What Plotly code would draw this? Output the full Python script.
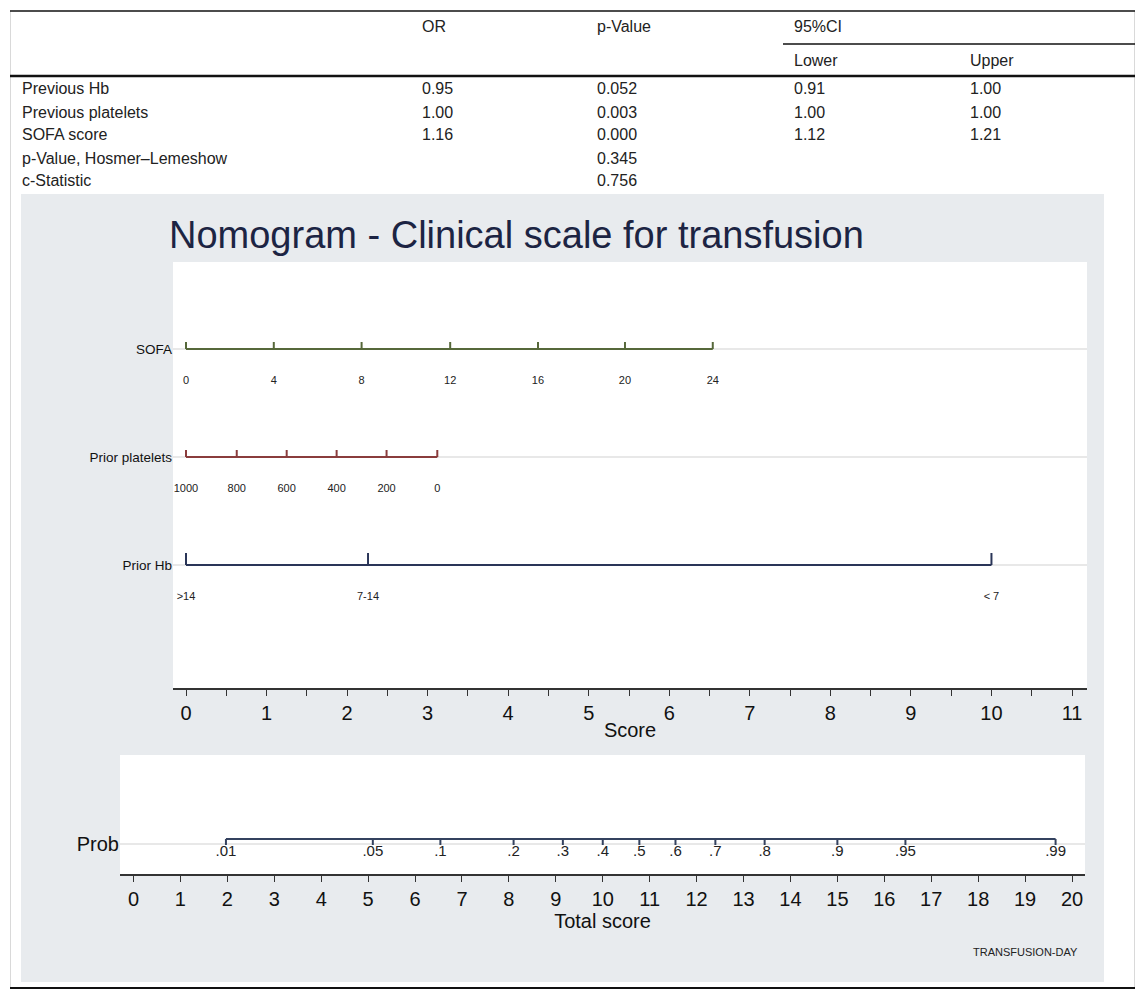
import plotly.graph_objects as go

# page body has an 8px default margin, so the figure is drawn 8px in from the window corner
OFF = 8
W, H = 1145 - 2 * OFF, 1000 - 2 * OFF

# ---------------- data ----------------
table_headers = ["OR", "p-Value", "95%CI"]
ci_subheaders = ["Lower", "Upper"]
table_rows = ["Previous Hb", "Previous platelets", "SOFA score",
              "p-Value, Hosmer–Lemeshow", "c-Statistic"]
or_vals = ["0.95", "1.00", "1.16", "", ""]
p_vals = ["0.052", "0.003", "0.000", "0.345", "0.756"]
ci_lower = ["0.91", "1.00", "1.12", "", ""]
ci_upper = ["1.00", "1.00", "1.21", "", ""]

variables = ["SOFA", "Prior platelets", "Prior Hb"]
sofa_values = ["0", "4", "8", "12", "16", "20", "24"]
sofa_points = [0, 1.09, 2.18, 3.28, 4.37, 5.45, 6.54]
platelet_values = ["1000", "800", "600", "400", "200", "0"]
platelet_points = [0, 0.63, 1.25, 1.87, 2.49, 3.12]
hb_categories = [">14", "7-14", "< 7"]
hb_points = [0, 2.26, 10.0]

score_ticks = list(range(0, 12))
total_ticks = list(range(0, 21))

prob_labels = [".01", ".05", ".1", ".2", ".3", ".4", ".5", ".6", ".7", ".8", ".9", ".95", ".99"]
prob_total_score = [1.97, 5.10, 6.54, 8.10, 9.15, 10.0, 10.78, 11.55, 12.40, 13.45, 15.0, 16.45, 19.65]

# ---------------- helpers ----------------
def fx(px):
    return (px - OFF) / W

def fy(py):
    return 1 - (py - OFF) / H

FONT = "Liberation Sans, Arial, sans-serif"

fig = go.Figure()

# top nomogram subplot geometry (window pixels)
T_L, T_R, T_T, T_B = 173, 1087, 262, 688
# bottom subplot
B_L, B_R, B_T, B_B = 120, 1085, 755, 874

def ty(py):
    return (T_B - py) / (T_B - T_T)

def by(py):
    return (B_B - py) / (B_B - B_T)

row_y = {"SOFA": ty(349), "Prior platelets": ty(457), "Prior Hb": ty(565)}
label_off = 32 / (T_B - T_T)

def scale_trace(points, yrow, tick_h, color):
    xs, ys = [points[0], points[-1], None], [yrow, yrow, None]
    for p in points:
        xs += [p, p, None]
        ys += [yrow, yrow + tick_h, None]
    return go.Scatter(x=xs, y=ys, mode="lines", line=dict(color=color, width=2),
                      hoverinfo="skip", showlegend=False, xaxis="x", yaxis="y")

def label_trace(points, labels, yrow):
    return go.Scatter(x=points, y=[yrow - label_off] * len(points), mode="text",
                      text=labels, textfont=dict(size=11, color="#222", family=FONT),
                      hoverinfo="skip", showlegend=False, xaxis="x", yaxis="y")

small_tick = 7 / (T_B - T_T)
big_tick = 12 / (T_B - T_T)

fig.add_trace(scale_trace(sofa_points, row_y["SOFA"], small_tick, "#56683a"))
fig.add_trace(label_trace(sofa_points, sofa_values, row_y["SOFA"]))
fig.add_trace(scale_trace(platelet_points, row_y["Prior platelets"], small_tick, "#8a3c3c"))
fig.add_trace(label_trace(platelet_points, platelet_values, row_y["Prior platelets"]))
fig.add_trace(scale_trace(hb_points, row_y["Prior Hb"], big_tick, "#2a3558"))
fig.add_trace(label_trace(hb_points, hb_categories, row_y["Prior Hb"]))

# bottom probability scale
prob_line_y = by(839)
prob_grid_y = by(844)
ptick = 6 / (B_B - B_T)
xs, ys = [prob_total_score[0], prob_total_score[-1], None], [prob_line_y, prob_line_y, None]
for p in prob_total_score:
    xs += [p, p, None]
    ys += [prob_line_y, prob_line_y - ptick, None]
fig.add_trace(go.Scatter(x=xs, y=ys, mode="lines", line=dict(color="#34425f", width=2),
                         hoverinfo="skip", showlegend=False, xaxis="x2", yaxis="y2"))
fig.add_trace(go.Scatter(x=prob_total_score, y=[by(852)] * len(prob_total_score), mode="text",
                         text=prob_labels, textfont=dict(size=15, color="#222", family=FONT),
                         hoverinfo="skip", showlegend=False, xaxis="x2", yaxis="y2"))

# ---------------- axes ----------------
unit_top = (1072 - 186) / 11
unit_bot = (1072 - 133.5) / 20

axis_common = dict(showline=True, linecolor="#333", linewidth=1.5, ticks="outside",
                   ticklen=6, tickwidth=1.3, tickcolor="#333", showgrid=False, zeroline=False,
                   tickfont=dict(size=20, color="#111", family=FONT), fixedrange=True)

fig.update_layout(
    xaxis=dict(domain=[fx(T_L), fx(T_R)], anchor="y",
               range=[(T_L - 186) / unit_top, (T_R - 186) / unit_top],
               tickvals=score_ticks, ticktext=[str(t) for t in score_ticks],
               minor=dict(tickvals=[t + 0.5 for t in score_ticks[:-1]], ticks="outside",
                          ticklen=6, tickwidth=1.3, tickcolor="#333"),
               title=dict(text="Score", font=dict(size=20, color="#111", family=FONT), standoff=0),
               **axis_common),
    yaxis=dict(domain=[fy(T_B), fy(T_T)], anchor="x", range=[0, 1],
               tickvals=[row_y[v] for v in variables], ticktext=variables,
               tickfont=dict(size=13.5, color="#111", family=FONT),
               showgrid=True, gridcolor="#e8e8e8", gridwidth=1.5,
               showline=False, zeroline=False, ticks="", fixedrange=True),
    xaxis2=dict(domain=[fx(B_L), fx(B_R)], anchor="y2",
                range=[(B_L - 133.5) / unit_bot, (B_R - 133.5) / unit_bot],
                tickvals=total_ticks, ticktext=[str(t) for t in total_ticks],
                title=dict(text="Total score", font=dict(size=20, color="#111", family=FONT), standoff=0),
                **axis_common),
    yaxis2=dict(domain=[fy(B_B), fy(B_T)], anchor="x2", range=[0, 1],
                tickvals=[prob_grid_y], ticktext=["Prob"],
                tickfont=dict(size=20, color="#111", family=FONT),
                showgrid=True, gridcolor="#e8e8e8", gridwidth=1.5,
                showline=False, zeroline=False, ticks="", fixedrange=True),
)

# ---------------- shapes ----------------
shapes = []
shapes.append(dict(type="rect", xref="paper", yref="paper", x0=fx(21), x1=fx(1104),
                   y0=fy(982), y1=fy(194), fillcolor="#e8ebee", line=dict(width=0), layer="below"))
for xr, yr in (("x domain", "y domain"), ("x2 domain", "y2 domain")):
    shapes.append(dict(type="rect", xref=xr, yref=yr, x0=0, x1=1, y0=0, y1=1,
                       fillcolor="white", line=dict(width=0), layer="below"))
shapes.append(dict(type="line", xref="paper", yref="paper", x0=fx(10.5), x1=fx(10.5),
                   y0=fy(11), y1=fy(988), line=dict(color="#d9d9d9", width=1)))
shapes.append(dict(type="line", xref="paper", yref="paper", x0=fx(1134.5), x1=fx(1134.5),
                   y0=fy(11), y1=fy(988), line=dict(color="#d9d9d9", width=1)))
shapes.append(dict(type="line", xref="paper", yref="paper", x0=fx(10), x1=fx(1135),
                   y0=fy(11), y1=fy(11), line=dict(color="#111", width=1.5)))
shapes.append(dict(type="line", xref="paper", yref="paper", x0=fx(783), x1=fx(1135),
                   y0=fy(44), y1=fy(44), line=dict(color="#111", width=1.5)))
shapes.append(dict(type="line", xref="paper", yref="paper", x0=fx(10), x1=fx(1135),
                   y0=fy(76), y1=fy(76), line=dict(color="#111", width=2.5)))
shapes.append(dict(type="line", xref="paper", yref="paper", x0=fx(10), x1=fx(1135),
                   y0=fy(988), y1=fy(988), line=dict(color="#111", width=2)))

# ---------------- annotations ----------------
ann = []
def txt(x, y, s, size=16, color="#222", anchor="left"):
    ann.append(dict(xref="paper", yref="paper", x=fx(x), y=fy(y), text=s, showarrow=False,
                    xanchor=anchor, yanchor="middle", font=dict(size=size, color=color, family=FONT)))

col_x = [420, 595, 792, 968]
for h, cx in zip(table_headers, col_x[:3]):
    txt(cx, 27, h)
for h, cx in zip(ci_subheaders, col_x[2:]):
    txt(cx, 60, h)
row_py = [89, 112, 135, 158, 181]
for i, py in enumerate(row_py):
    txt(20, py, table_rows[i])
    for cx, col in zip(col_x, (or_vals, p_vals, ci_lower, ci_upper)):
        if col[i]:
            txt(cx, py, col[i])

txt(167, 235, "Nomogram - Clinical scale for transfusion", size=38, color="#1c2443")
txt(1080, 952, "TRANSFUSION-DAY", size=11, color="#222", anchor="right")

fig.update_layout(
    width=W, height=H, autosize=False,
    margin=dict(l=0, r=0, t=0, b=0),
    paper_bgcolor="white", plot_bgcolor="white",
    shapes=shapes, annotations=ann, showlegend=False,
    font=dict(family=FONT),
)

fig.write_html("out.html")
